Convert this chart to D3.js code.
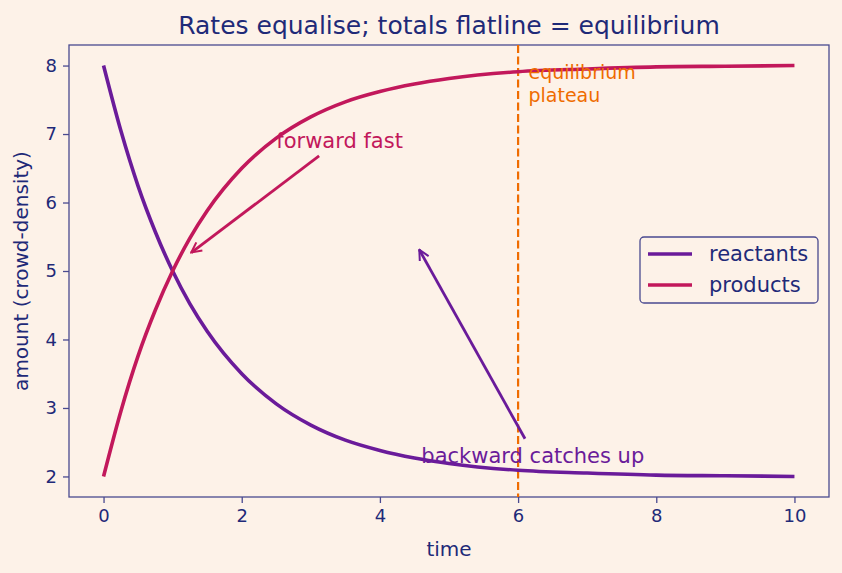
<!DOCTYPE html>
<html>
  <head>
    <meta charset="utf-8">
    <title></title>
  </head>
  <style>
  body{
      margin: 0;
      font-family: "DejaVu Sans";
      background-color: #fdf2e8
    }
  </style>
  <script src="https://d3js.org/d3.v7.min.js"></script>
  <body>
    <script>
    // values
    const time      = [0, 0.25, 0.5, 0.75, 1, 1.25, 1.5, 2, 2.5, 3, 3.5, 4, 4.5, 5, 6, 7, 8, 9, 10]
    const reactants = [8, 7.05, 6.24, 5.57, 5.0, 4.52, 4.12, 3.5, 3.06, 2.75, 2.53, 2.38, 2.27, 2.19, 2.09, 2.05, 2.02, 2.01, 2.0]
    const products  = [2, 2.95, 3.76, 4.43, 5.0, 5.48, 5.88, 6.5, 6.94, 7.25, 7.47, 7.62, 7.73, 7.81, 7.91, 7.95, 7.98, 7.99, 8.0]
    const xTicks = [0, 2, 4, 6, 8, 10]
    const yTicks = [2, 3, 4, 5, 6, 7, 8]
    const equilibriumTime = 6

    var W = 842, H = 573
    var margin = { left: 69, top: 45, right: 13, bottom: 76 }
    var width = W - margin.left - margin.right
    var height = H - margin.top - margin.bottom

    var navy = "#1f2a78", spine = "#4a4a90"
    var cPurple = "#6a1b9a", cRed = "#c2185b", cOrange = "#ef6c00"
    var font = "DejaVu Sans"

    var svg = d3.select("body").append("svg")
                .attr("width", W).attr("height", H)
                .attr("font-family", font)
                .style("display", "block")
                .style("background", "#fdf2e8")

    var g = svg.append("g").attr("transform", `translate(${margin.left},${margin.top})`)

    var x = d3.scaleLinear().domain([-0.5, 10.5]).range([0, width])
    var y = d3.scaleLinear().domain([1.7, 8.3]).range([height, 0])

    // axes
    var xAxis = g.append("g").attr("transform", `translate(0,${height})`)
        .call(d3.axisBottom(x).tickValues(xTicks).tickFormat(d3.format("d")).tickSize(6).tickPadding(6))
    var yAxis = g.append("g")
        .call(d3.axisLeft(y).tickValues(yTicks).tickFormat(d3.format("d")).tickSize(6).tickPadding(6))
    ;[xAxis, yAxis].forEach(function(a){
      a.attr("font-family", font).attr("font-size", 18)
      a.select(".domain").remove()
      a.selectAll("line").attr("stroke", spine).attr("stroke-width", 1.3)
      a.selectAll("text").attr("fill", navy)
    })

    // frame
    g.append("rect").attr("width", width).attr("height", height)
      .attr("fill", "none").attr("stroke", spine).attr("stroke-width", 1.3)

    // equilibrium line
    g.append("line")
      .attr("x1", x(equilibriumTime)).attr("x2", x(equilibriumTime))
      .attr("y1", 0).attr("y2", height)
      .attr("stroke", cOrange).attr("stroke-width", 2.2).attr("stroke-dasharray", "8,3.5")

    var line = d3.line().curve(d3.curveMonotoneX)
    var series = [
      { name: "reactants", values: reactants, color: cPurple },
      { name: "products", values: products, color: cRed }
    ]
    series.forEach(function(s){
      g.append("path")
        .datum(time.map(function(t, i){ return [x(t), y(s.values[i])] }))
        .attr("d", line)
        .attr("fill", "none").attr("stroke", s.color).attr("stroke-width", 3.6)
    })

    // annotations
    var defs = svg.append("defs")
    function arrowHead(id, color){
      defs.append("marker").attr("id", id)
        .attr("viewBox", "0 0 10 10").attr("refX", 9).attr("refY", 5)
        .attr("markerWidth", 4.5).attr("markerHeight", 4.5).attr("orient", "auto")
        .append("path").attr("d", "M1,1 L9,5 L1,9").attr("fill", "none")
        .attr("stroke", color).attr("stroke-width", 1.6)
    }
    arrowHead("ahRed", cRed)
    arrowHead("ahPurple", cPurple)

    g.append("line")
      .attr("x1", x(3.12)).attr("y1", y(6.68))
      .attr("x2", x(1.27)).attr("y2", y(5.27))
      .attr("stroke", cRed).attr("stroke-width", 2.8).attr("marker-end", "url(#ahRed)")
    g.append("text").attr("x", x(2.5)).attr("y", y(6.8))
      .attr("fill", cRed).attr("font-size", 21).text("forward fast")

    g.append("line")
      .attr("x1", x(6.1)).attr("y1", y(2.55))
      .attr("x2", x(4.57)).attr("y2", y(5.31))
      .attr("stroke", cPurple).attr("stroke-width", 2.8).attr("marker-end", "url(#ahPurple)")
    g.append("text").attr("x", x(4.6)).attr("y", y(2.2))
      .attr("fill", cPurple).attr("font-size", 21).text("backward catches up")

    var eq = g.append("text").attr("fill", cOrange).attr("font-size", 19)
    eq.append("tspan").attr("x", x(6.15)).attr("y", y(7.8)).text("equilibrium")
    eq.append("tspan").attr("x", x(6.15)).attr("y", y(7.47)).text("plateau")

    // legend
    var lg = g.append("g").attr("transform", `translate(${width - 189},192)`)
    lg.append("rect").attr("width", 178).attr("height", 66).attr("rx", 4)
      .attr("fill", "#fdf2e8").attr("stroke", spine).attr("stroke-width", 1.3)
    series.forEach(function(s, i){
      var yy = 17 + i * 31
      lg.append("line").attr("x1", 8).attr("x2", 52).attr("y1", yy).attr("y2", yy)
        .attr("stroke", s.color).attr("stroke-width", 3.6)
      lg.append("text").attr("x", 69).attr("y", yy + 7).attr("fill", navy)
        .attr("font-size", 21).text(s.name)
    })

    // titles
    svg.append("text").attr("x", margin.left + width / 2).attr("y", 34)
      .attr("text-anchor", "middle").attr("fill", navy).attr("font-size", 25)
      .text("Rates equalise; totals flatline = equilibrium")
    svg.append("text").attr("x", margin.left + width / 2).attr("y", 556)
      .attr("text-anchor", "middle").attr("fill", navy).attr("font-size", 20).text("time")
    svg.append("text").attr("transform", `translate(28,${margin.top + height / 2}) rotate(-90)`)
      .attr("text-anchor", "middle").attr("fill", navy).attr("font-size", 20)
      .text("amount (crowd-density)")
    </script>
  </body>
</html>
